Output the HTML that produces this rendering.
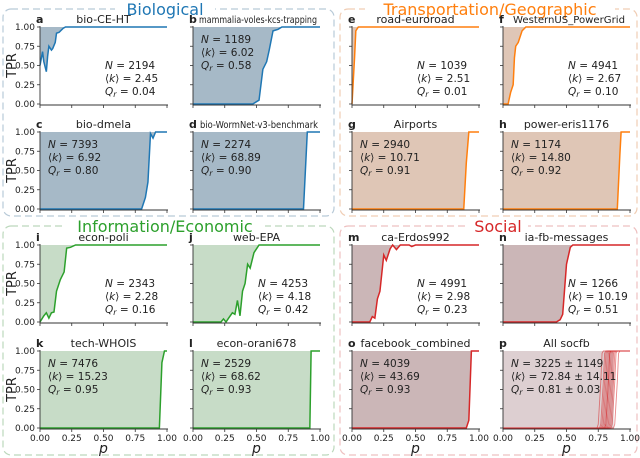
<!DOCTYPE html>
<html><head><meta charset="utf-8"><style>
html,body{margin:0;padding:0;background:#fff;}
svg{display:block;font-family:"DejaVu Sans","Liberation Sans",sans-serif;}
</style></head><body>
<svg id="fig" width="640" height="458" viewBox="0 0 640 458"></svg>
<script>
// ---- data ----
const pA=[0,0.02,0.03,0.05,0.06,0.07,0.09,0.1,0.12,0.13,0.15,0.18,0.2,1];
const tA=[0.5,0.68,0.55,0.42,0.62,0.75,0.7,0.72,0.8,0.92,0.93,0.98,1,1];
const pB=[0,0.47,0.5,0.52,0.55,0.58,0.6,0.63,0.67,0.7,1];
const tB=[0,0,0.03,0.05,0.45,0.55,0.7,0.95,0.97,1,1];
const pC=[0,0.8,0.83,0.85,0.87,0.89,0.91,1];
const tC=[0,0,0.15,0.35,0.98,0.92,1,1];
const pD=[0,0.87,0.9,1];
const tD=[0,0,1,1];
const pE=[0,0.01,0.02,0.03,0.05,1];
const tE=[0,0.3,0.6,0.95,1,1];
const pF=[0,0.04,0.06,0.08,0.09,0.1,0.12,0.15,0.18,1];
const tF=[0,0,0.15,0.25,0.6,0.75,0.8,0.95,1,1];
const pG=[0,0.88,0.9,0.92,1];
const tG=[0,0,0.6,1,1];
const pH=[0,0.9,0.92,0.93,1];
const tH=[0,0,0.7,1,1];
const pI=[0,0.03,0.05,0.07,0.09,0.11,0.13,0.16,0.19,0.21,0.24,0.28,1];
const tI=[0,0.08,0.12,0.05,0.12,0.13,0.4,0.55,0.65,0.96,0.97,1,1];
const pJ=[0,0.22,0.24,0.26,0.28,0.31,0.33,0.35,0.37,0.39,0.41,0.43,0.45,0.48,0.52,1];
const tJ=[0,0,0.04,0,0.05,0.12,0.1,0.28,0.08,0.4,0.5,0.75,0.7,0.9,1,1];
const pK=[0,0.94,0.96,0.98,1];
const tK=[0,0,0.85,1,1];
const pL=[0,0.92,0.93,1];
const tL=[0,0,1,1];
const pM=[0,0.14,0.16,0.18,0.2,0.22,0.25,0.27,0.3,0.32,0.35,0.38,0.45,0.47,0.5,1];
const tM=[0,0,0.07,0.05,0.3,0.4,0.87,0.8,0.95,1,0.94,1,1,0.98,1,1];
const pN=[0,0.42,0.45,0.47,0.5,0.53,0.55,1];
const tN=[0,0,0.03,0.1,0.75,0.97,1,1];
const pO=[0,0.9,0.92,0.94,1];
const tO=[0,0,0.1,1,1];
const socfbThresholds=[0.74,0.76,0.77,0.78,0.79,0.8,0.8,0.81,0.82,0.83,0.84,0.85,0.87];
const xTicks=[0,0.25,0.5,0.75,1];
const xTickLabels=["0.00","0.25","0.50","0.75","1.00"];
const yTicks=[0,0.25,0.5,0.75,1];
const yTickLabels=["0.00","0.25","0.50","0.75","1.00"];

const NS="http://www.w3.org/2000/svg";
const svg=document.getElementById('fig');
function el(tag,attrs,parent){const e=document.createElementNS(NS,tag);for(const k in attrs)e.setAttribute(k,attrs[k]);(parent||svg).appendChild(e);return e;}

const groups=[
 {x:3,y:9,w:331,h:207,title:"Biological",c:"#1f77b4",b:"#b8cad8",tx:165,name:"biological-group"},
 {x:340,y:9,w:297,h:207,title:"Transportation/Geographic",c:"#ff7f0e",b:"#f0cdb4",tx:490,name:"transportation-group"},
 {x:3,y:226,w:331,h:229,title:"Information/Economic",c:"#2ca02c",b:"#bcd8bc",tx:165,name:"information-group"},
 {x:340,y:226,w:297,h:229,title:"Social",c:"#d62728",b:"#eec0c0",tx:498,name:"social-group"}];
groups.forEach(g=>{
 const r=el('rect',{x:g.x,y:g.y,width:g.w,height:g.h,rx:8,fill:'none',stroke:g.b,'stroke-width':1.2,'stroke-dasharray':'7,4'});
 
 
 const bg=el('rect',{x:g.tx-g.title.length*5,y:g.y-9,width:g.title.length*10,height:17,fill:'#fff'});
 
 
 const t=el('text',{x:g.tx,y:g.y+6,'text-anchor':'middle','font-size':16,fill:g.c});
 t.textContent=g.title;
 
 
});

const colX=[40,193,352,503], rowY=[27,132,245,351];
const W=127,H=77;
const blue={line:"#1f77b4",fill:"#a6b9c7"},orange={line:"#ff7f0e",fill:"#dfc6b6"},green={line:"#2ca02c",fill:"#c7dcc7"},red={line:"#d62728",fill:"#cbb6b7"};
const panels=[
 {id:'a',title:'bio-CE-HT',c:0,r:0,p:pA,t:tA,col:blue,N:'2194',k:'2.45',Q:'0.04',pos:'mid'},
 {id:'b',title:'mammalia-voles-kcs-trapping',c:1,r:0,p:pB,t:tB,col:blue,N:'1189',k:'6.02',Q:'0.58',pos:'left',tl:[199,118]},
 {id:'c',title:'bio-dmela',c:0,r:1,p:pC,t:tC,col:blue,N:'7393',k:'6.92',Q:'0.80',pos:'left'},
 {id:'d',title:'bio-WormNet-v3-benchmark',c:1,r:1,p:pD,t:tD,col:blue,N:'2274',k:'68.89',Q:'0.90',pos:'left',tl:[200,118]},
 {id:'e',title:'road-euroroad',c:2,r:0,p:pE,t:tE,col:orange,N:'1039',k:'2.51',Q:'0.01',pos:'mid'},
 {id:'f',title:'WesternUS_PowerGrid',c:3,r:0,p:pF,t:tF,col:orange,N:'4941',k:'2.67',Q:'0.10',pos:'mid',tl:[513,112]},
 {id:'g',title:'Airports',c:2,r:1,p:pG,t:tG,col:orange,N:'2940',k:'10.71',Q:'0.91',pos:'left'},
 {id:'h',title:'power-eris1176',c:3,r:1,p:pH,t:tH,col:orange,N:'1174',k:'14.80',Q:'0.92',pos:'left'},
 {id:'i',title:'econ-poli',c:0,r:2,p:pI,t:tI,col:green,N:'2343',k:'2.28',Q:'0.16',pos:'mid'},
 {id:'j',title:'web-EPA',c:1,r:2,p:pJ,t:tJ,col:green,N:'4253',k:'4.18',Q:'0.42',pos:'mid'},
 {id:'k',title:'tech-WHOIS',c:0,r:3,p:pK,t:tK,col:green,N:'7476',k:'15.23',Q:'0.95',pos:'left'},
 {id:'l',title:'econ-orani678',c:1,r:3,p:pL,t:tL,col:green,N:'2529',k:'68.62',Q:'0.93',pos:'left'},
 {id:'m',title:'ca-Erdos992',c:2,r:2,p:pM,t:tM,col:red,N:'4991',k:'2.98',Q:'0.23',pos:'mid'},
 {id:'n',title:'ia-fb-messages',c:3,r:2,p:pN,t:tN,col:red,N:'1266',k:'10.19',Q:'0.51',pos:'mid'},
 {id:'o',title:'facebook_combined',c:2,r:3,p:pO,t:tO,col:red,N:'4039',k:'43.69',Q:'0.93',pos:'left'},
 {id:'p',title:'All socfb',c:3,r:3,col:{line:"#d62728",fill:"#ddcfd1"},multi:true,N:'3225 ± 1149',k:'72.84 ± 14.11',Q:'0.81 ± 0.03',pos:'left'}
];

panels.forEach(P=>{
 const x0=colX[P.c],y0=rowY[P.r];
 const sx=v=>x0+v*W, sy=v=>y0+H-v*H;
 const g=el('g',{});
 
 
 if(!P.multi){
  let d='M'+sx(P.p[0])+','+sy(1);
  P.p.forEach((v,i)=>{d+='L'+sx(v)+','+sy(P.t[i]);});
  d+='L'+sx(P.p[P.p.length-1])+','+sy(1)+'Z';
  const f=el('path',{d:d,fill:P.col.fill,stroke:'none'},g);
  
  
  const l=el('polyline',{points:P.p.map((v,i)=>sx(v)+','+sy(P.t[i])).join(' '),fill:'none',stroke:P.col.line,'stroke-width':1.5},g);
  
  
 } else {
  const f=el('rect',{x:sx(0),y:sy(1),width:sx(socfbThresholds[socfbThresholds.length-1])-sx(0),height:H,fill:P.col.fill},g);
  
  
  socfbThresholds.forEach((th,i)=>{
   const pts=[[0,0],[th,0],[th+0.01,0.05],[th+0.03,0.6],[th+0.04,0.97],[th+0.05,1],[1,1]];
   const l=el('polyline',{points:pts.map(q=>sx(q[0])+','+sy(q[1])).join(' '),fill:'none',stroke:'#d62728','stroke-opacity':0.55,'stroke-width':0.9},g);
   
   
  });
 }
 const ax=el('path',{d:`M${x0},${y0-1}V${y0+H+1}H${x0+W+1}`,fill:'none',stroke:'#333','stroke-width':0.9},g);
 
 
 xTicks.forEach((v,i)=>{
  el('line',{x1:sx(v),x2:sx(v),y1:y0+H+1,y2:y0+H+4,stroke:'#333','stroke-width':0.8},g);
  if(P.r===3){const t=el('text',{x:sx(v),y:y0+H+13,'text-anchor':'middle','font-size':9,fill:'#222'},g);t.textContent=xTickLabels[i];
   
   }
 });
 yTicks.forEach((v,i)=>{
  el('line',{x1:x0-3,x2:x0,y1:sy(v),y2:sy(v),stroke:'#333','stroke-width':0.8},g);
  if(P.c===0){const t=el('text',{x:x0-5,y:sy(v)+3,'text-anchor':'end','font-size':9,fill:'#222'},g);t.textContent=yTickLabels[i];
   
   }
 });
 if(P.c===0){const t=el('text',{x:0,y:0,transform:`translate(16,${y0+H/2}) rotate(-90)`,'text-anchor':'middle','font-size':13,fill:'#222'},g);t.textContent='TPR';
  
  }
 if(P.r===3){const t=el('text',{x:x0+W/2,y:y0+H+25,'text-anchor':'middle','font-size':14,'font-style':'italic',fill:'#222'},g);t.textContent='p';
  
  }
 const lt=el('text',{x:x0-4,y:y0-4,'font-size':11,'font-weight':'bold',fill:'#222'},g);lt.textContent=P.id;
 
 
 let tt;
 if(P.tl){tt=el('text',{x:P.tl[0],y:y0-4,'font-size':10,textLength:P.tl[1],lengthAdjust:'spacingAndGlyphs',fill:'#222'},g);}
 else{tt=el('text',{x:x0+W/2,y:y0-4,'text-anchor':'middle','font-size':11,fill:'#222'},g);}
 tt.textContent=P.title;
 
 
 const tx=P.pos==='mid'?x0+65:x0+8, ty=P.pos==='mid'?y0+42:y0+16;
 const lines=[['N',' = '+P.N],['⟨k⟩',' = '+P.k],['Q',' = '+P.Q]];
 lines.forEach((L,i)=>{
  const t=el('text',{x:tx,y:ty+i*13,'font-size':10.5,fill:'#222'},g);
  
  
  if(i===1){t.textContent='⟨'; const s=el('tspan',{'font-style':'italic'},t); s.textContent='k'; const s2=el('tspan',{},t); s2.textContent='⟩'+L[1];}
  else if(i===2){const s=el('tspan',{'font-style':'italic'},t);s.textContent='Q';const s1=el('tspan',{'font-style':'italic','font-size':8,dy:2},t);s1.textContent='r';const s2=el('tspan',{dy:-2},t);s2.textContent=L[1];}
  else {const s=el('tspan',{'font-style':'italic'},t);s.textContent='N';const s2=el('tspan',{},t);s2.textContent=L[1];}
 });
});
</script>
</body></html>
